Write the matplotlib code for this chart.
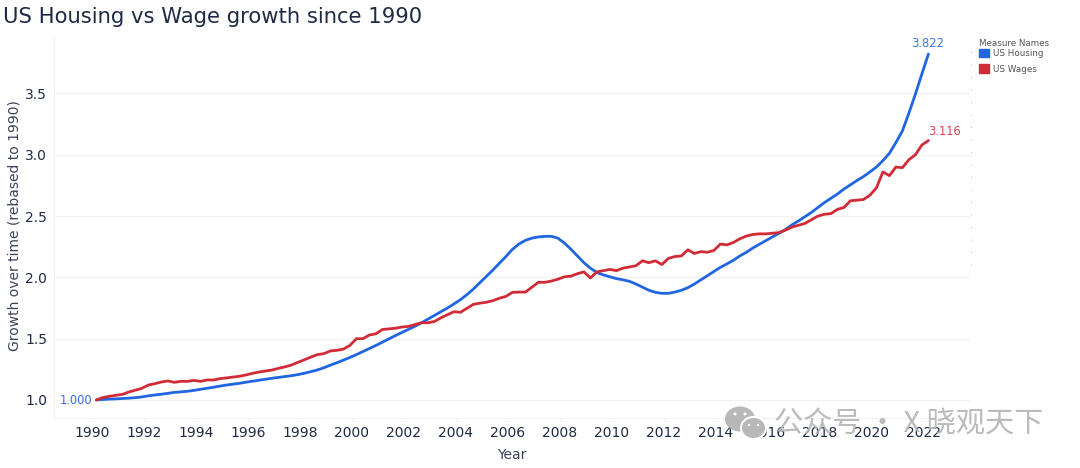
#!/usr/bin/env python3
import matplotlib
matplotlib.use("Agg")
import matplotlib.pyplot as plt
import numpy as np
from matplotlib.patches import Ellipse, Patch

# quarterly index, rebased to 1990
first_year = 1990.17
housing = [1.000, 1.004, 1.007, 1.009,
           1.012, 1.015, 1.019, 1.025,
           1.034, 1.041, 1.047, 1.054,
           1.062, 1.066, 1.071, 1.078,
           1.087, 1.095, 1.104, 1.113,
           1.122, 1.129, 1.136, 1.145,
           1.153, 1.161, 1.169, 1.177,
           1.184, 1.191, 1.198, 1.207,
           1.218, 1.231, 1.245, 1.263,
           1.284, 1.304, 1.325, 1.347,
           1.370, 1.395, 1.420, 1.445,
           1.472, 1.498, 1.525, 1.550,
           1.575, 1.601, 1.629, 1.659,
           1.690, 1.720, 1.750, 1.783,
           1.818, 1.859, 1.905, 1.957,
           2.010, 2.060, 2.115, 2.170,
           2.228, 2.272, 2.302, 2.320,
           2.330, 2.335, 2.335, 2.320,
           2.280, 2.230, 2.175, 2.120,
           2.075, 2.040, 2.020, 2.005,
           1.990, 1.980, 1.968, 1.946,
           1.920, 1.895, 1.878, 1.870,
           1.870, 1.880, 1.895, 1.916,
           1.946, 1.980, 2.014, 2.047,
           2.082, 2.110, 2.140, 2.175,
           2.205, 2.240, 2.270, 2.300,
           2.330, 2.360, 2.390, 2.428,
           2.460, 2.495, 2.530, 2.570,
           2.610, 2.645, 2.680, 2.720,
           2.755, 2.790, 2.822, 2.860,
           2.900, 2.952, 3.012, 3.100,
           3.195, 3.340, 3.495, 3.660,
           3.822]
wages = [1.000, 1.020, 1.030, 1.038,
         1.046, 1.065, 1.080, 1.095,
         1.122, 1.133, 1.147, 1.155,
         1.144, 1.152, 1.152, 1.160,
         1.152, 1.163, 1.163, 1.174,
         1.180, 1.187, 1.193, 1.204,
         1.217, 1.228, 1.236, 1.244,
         1.258, 1.270, 1.285, 1.307,
         1.328, 1.350, 1.370, 1.378,
         1.400, 1.405, 1.415, 1.445,
         1.500, 1.500, 1.530, 1.540,
         1.575, 1.580, 1.585, 1.595,
         1.600, 1.615, 1.630, 1.630,
         1.640, 1.670, 1.695, 1.720,
         1.715, 1.747, 1.780, 1.790,
         1.797, 1.810, 1.830, 1.845,
         1.878, 1.880, 1.880, 1.920,
         1.960, 1.960, 1.970, 1.985,
         2.005, 2.010, 2.030, 2.045,
         1.995, 2.045, 2.055, 2.065,
         2.055, 2.075, 2.085, 2.095,
         2.135, 2.120, 2.135, 2.105,
         2.155, 2.170, 2.175, 2.225,
         2.195, 2.210, 2.205, 2.220,
         2.272, 2.265, 2.285, 2.315,
         2.337, 2.350, 2.355, 2.355,
         2.360, 2.365, 2.385, 2.410,
         2.425, 2.440, 2.470, 2.500,
         2.515, 2.520, 2.555, 2.570,
         2.625, 2.630, 2.635, 2.670,
         2.730, 2.860, 2.830, 2.900,
         2.895, 2.960, 3.000, 3.080,
         3.116]
year_ticks = list(range(1990, 2023, 2))
value_ticks = [1.0, 1.5, 2.0, 2.5, 3.0, 3.5]

navy = "#1f2a44"
blue = "#1f66e0"
red = "#d12b38"

plt.rcParams["font.family"] = ["DejaVu Sans"]
fig = plt.figure(figsize=(10.8, 4.68), dpi=100)
W, H = 1080, 468
ax = fig.add_axes([54 / W, 1 - 418 / H, (970 - 54) / W, (418 - 36) / H])
ax.patch.set_alpha(0)

years = first_year + np.arange(len(housing)) / 4
ax.plot(years, housing, color=blue, lw=2.0, zorder=3, solid_capstyle="round")
ax.plot(years, wages, color=red, lw=2.0, zorder=4, solid_capstyle="round")

ax.set_xlim(1988.54, 2023.77)
ax.set_ylim(0.853, 3.969)
ax.set_xticks(year_ticks)
ax.set_yticks(value_ticks)
ax.tick_params(axis="x", length=3, width=0.6, color="#f2f2f2", labelsize=10, labelcolor=navy, pad=2.5)
ax.tick_params(axis="y", length=0, labelsize=10, labelcolor=navy, pad=5)
ax.grid(axis="y", color="#f1f1f1", lw=0.9)
ax.set_axisbelow(True)
for side in ["top", "right"]:
    ax.spines[side].set_visible(False)
for side in ["left", "bottom"]:
    ax.spines[side].set_color("#f1f1f1")
    ax.spines[side].set_linewidth(0.8)

ax.set_xlabel("Year", fontsize=10, color="#3a4258", labelpad=6)
ax.set_ylabel("Growth over time (rebased to 1990)", fontsize=10, color="#3a4258", labelpad=2.8, y=0.505)
fig.text(3 / W, 1 - 17 / H, "US Housing vs Wage growth since 1990", fontsize=15.25,
         color=navy, va="center", ha="left")

# end labels
ax.annotate("1.000", (years[0], housing[0]), xytext=(-3, -0.5), textcoords="offset points",
            ha="right", va="center", fontsize=8.3, color="#3b6fe0")
ax.annotate("3.822", (years[-1], housing[-1]), xytext=(-0.5, 3), textcoords="offset points",
            ha="center", va="bottom", fontsize=8.3, color="#3b78e6")
ax.annotate("3.116", (years[-1], wages[-1]), xytext=(0, 2), textcoords="offset points",
            ha="left", va="bottom", fontsize=8.3, color="#dc4450")

# legend
handles = [Patch(color=blue, label="US Housing"), Patch(color=red, label="US Wages")]
leg = fig.legend(handles=handles, title="Measure Names", loc="upper left",
                 bbox_to_anchor=(971 / W, 1 - 31 / H), frameon=False, fontsize=6.3,
                 title_fontsize=6.3, handlelength=1.15, handleheight=1.15,
                 handletextpad=0.5, labelspacing=0.75, borderpad=0.4)
leg._legend_box.align = "left"
leg._legend_box.sep = 0.5
for t in leg.get_texts():
    t.set_color("#555555")
leg.get_title().set_color("#555555")

# speckled edge to the right of the plot
fig.add_artist(plt.Line2D([971 / W, 971 / W], [1 - 265 / H, 1 - 45 / H], color="#a0a0a0",
                          lw=0.6, ls=(0, (1, 14))))

# watermark
wm_ax = fig.add_axes([0, 0, 1, 1], facecolor="none")
wm_ax.set_xlim(0, W)
wm_ax.set_ylim(H, 0)
wm_ax.axis("off")
wm_ax.add_patch(Ellipse((740, 419), 30, 25, color="#b4b4b4", alpha=0.95, lw=0))
wm_ax.add_patch(Ellipse((753.5, 428), 27, 24, color="white", lw=0))
wm_ax.add_patch(Ellipse((753.5, 428), 23, 20, color="#b4b4b4", alpha=0.95, lw=0))
for ex, ey, er in [(735, 414, 3), (745, 414, 3), (749, 425, 2.4), (758, 425, 2.4)]:
    wm_ax.add_patch(Ellipse((ex, ey), er, er, color="white", lw=0))
wm_ax.text(774, 424, "公众号 · X 晓观天下", fontsize=21, color="#b4b4b4", alpha=0.9,
           family=["Noto Sans CJK SC", "DejaVu Sans"], va="center", ha="left")

fig.savefig("out.png", dpi=100)
plt.close(fig)
